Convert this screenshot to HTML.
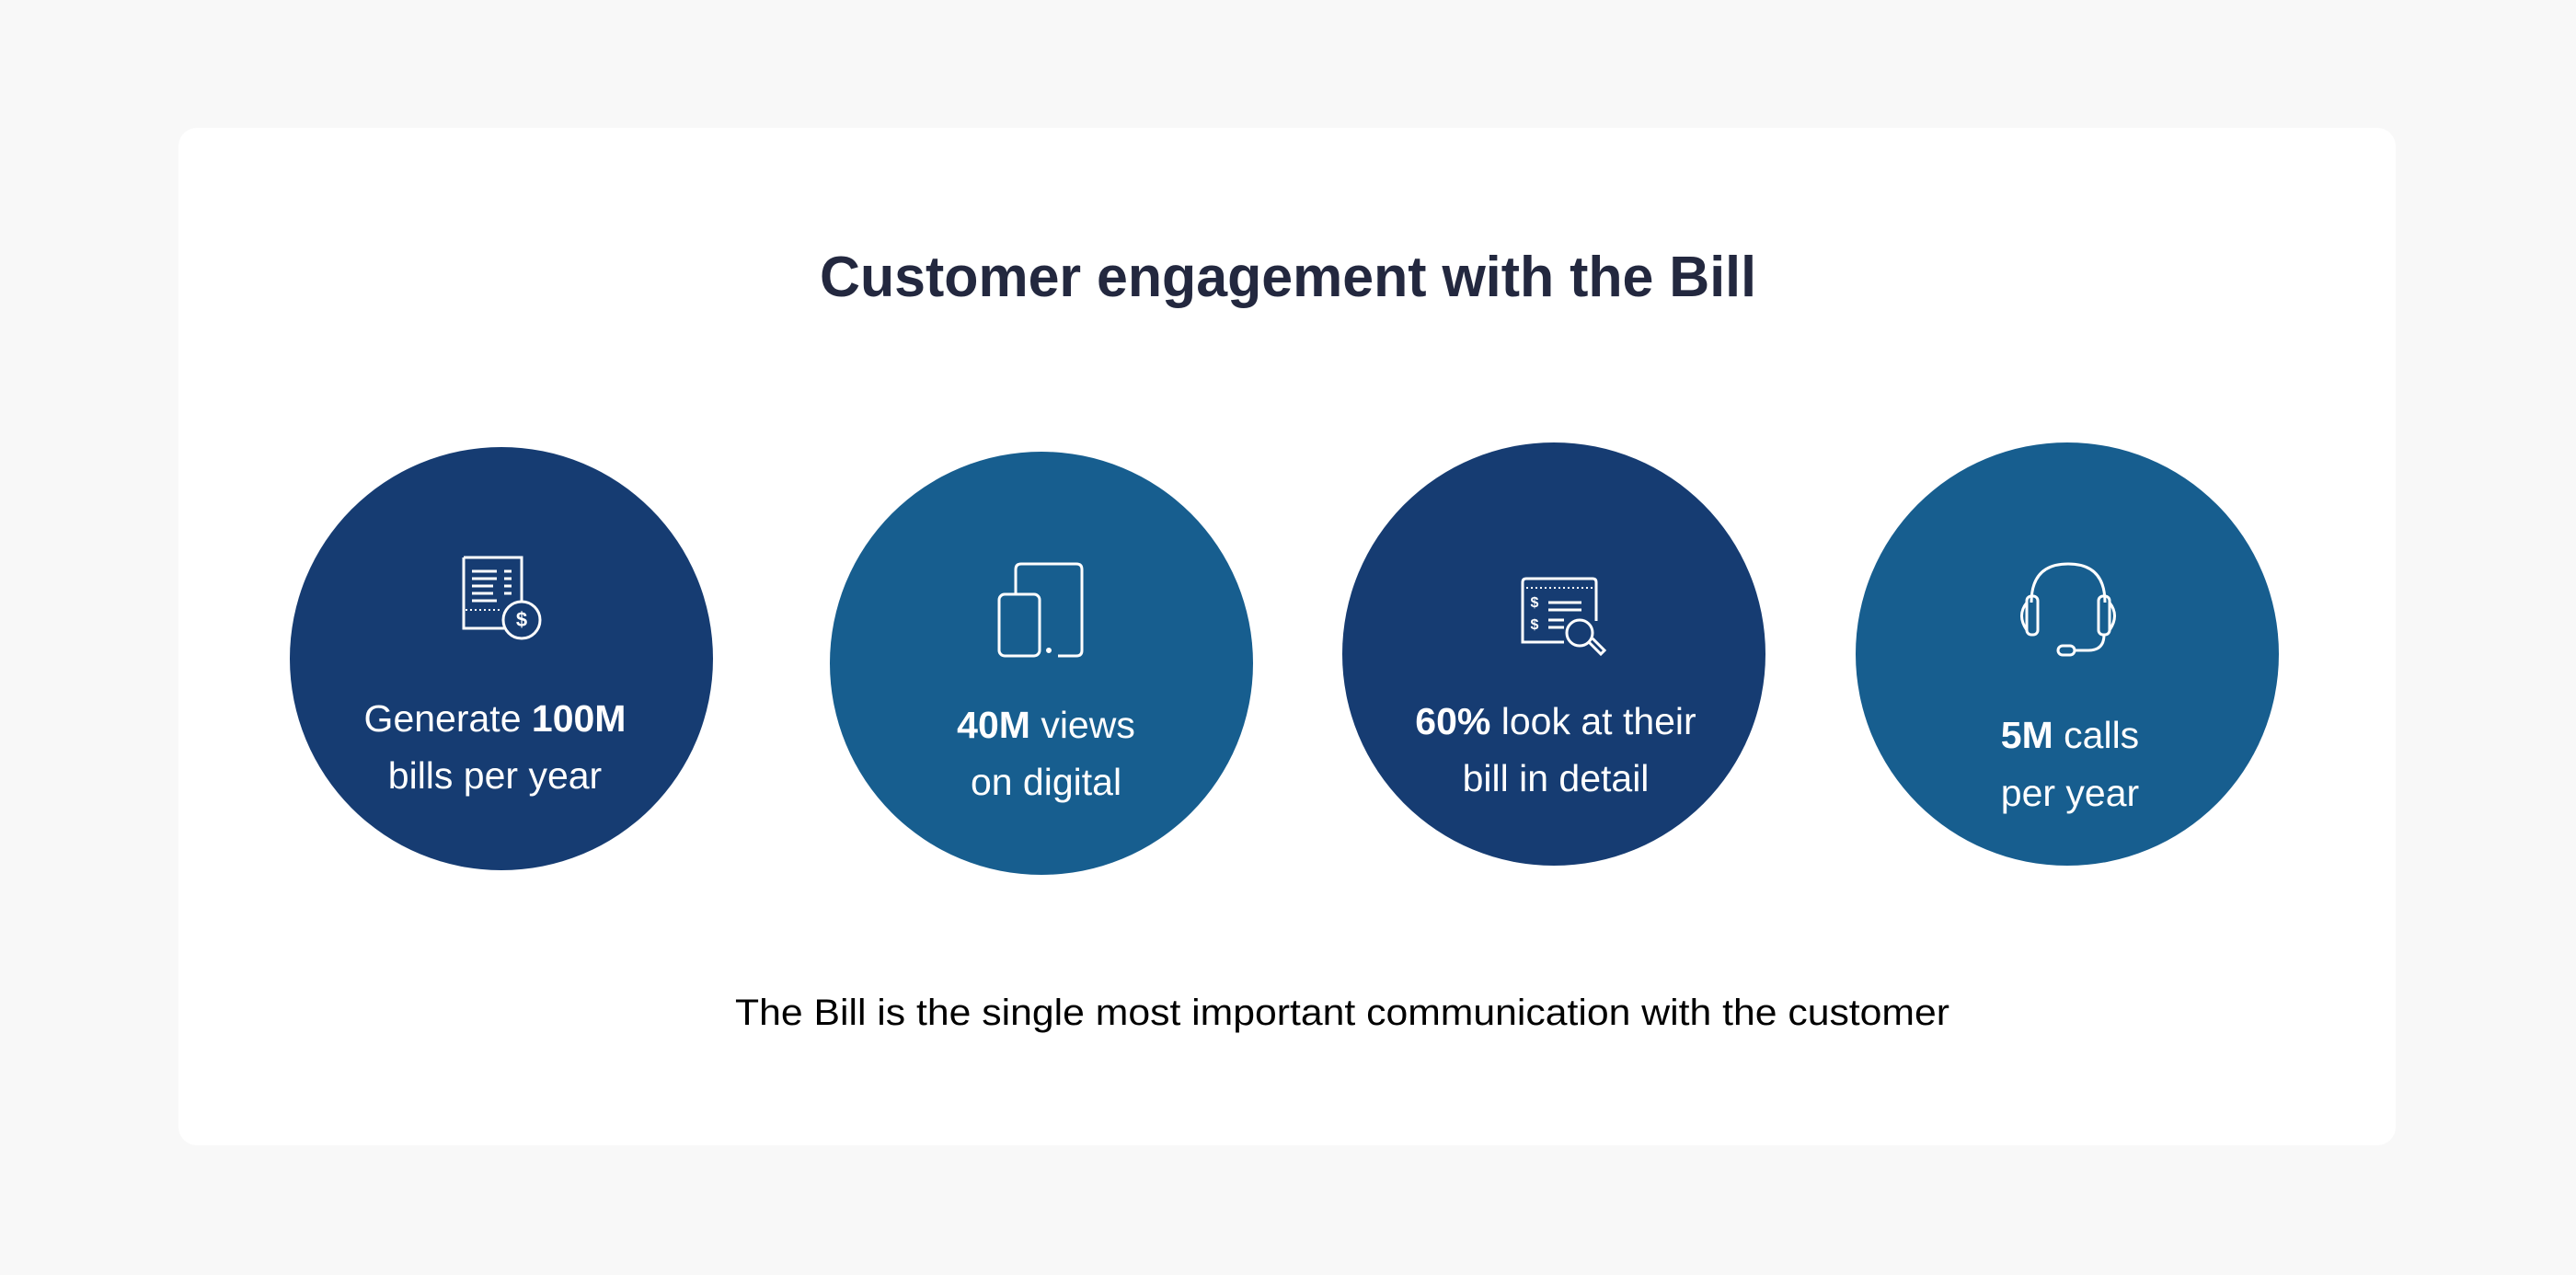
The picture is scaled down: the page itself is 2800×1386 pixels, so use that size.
<!DOCTYPE html>
<html><head><meta charset="utf-8"><style>
html,body{margin:0;padding:0;background:#f8f8f8;}
svg{display:block}
text{font-family:"Liberation Sans",sans-serif;}
</style></head><body>
<svg width="2800" height="1386" viewBox="0 0 2800 1386" xmlns="http://www.w3.org/2000/svg">
<rect x="0" y="0" width="2800" height="1386" fill="#f8f8f8"/>
<rect x="194" y="139" width="2410" height="1106" rx="20" fill="#ffffff"/>
<text x="1400" y="322" text-anchor="middle" font-size="62" font-weight="bold" fill="#23283f" textLength="1018" lengthAdjust="spacingAndGlyphs">Customer engagement with the Bill</text>

<circle cx="545" cy="716" r="230" fill="#163c72"/>
<circle cx="1132" cy="721" r="230" fill="#175e8f"/>
<circle cx="1689" cy="711" r="230" fill="#163c72"/>
<circle cx="2247" cy="711" r="230" fill="#175e8f"/>

<g fill="#fff" font-size="41">
<text x="538" y="795" text-anchor="middle">Generate <tspan font-weight="bold">100M</tspan></text>
<text x="538" y="857" text-anchor="middle">bills per year</text>
<text x="1137" y="802" text-anchor="middle"><tspan font-weight="bold">40M</tspan> views</text>
<text x="1137" y="864" text-anchor="middle">on digital</text>
<text x="1691" y="798" text-anchor="middle"><tspan font-weight="bold">60%</tspan> look at their</text>
<text x="1691" y="860" text-anchor="middle">bill in detail</text>
<text x="2250" y="813" text-anchor="middle"><tspan font-weight="bold">5M</tspan> calls</text>
<text x="2250" y="876" text-anchor="middle">per year</text>
</g>

<g transform="translate(0,-5)">
<g fill="none" stroke="#fff" stroke-width="3">
<path d="M504 611 L504 688 L548 688"/>
<path d="M504 611 L567 611 L567 660"/>
<line x1="513" y1="626" x2="540" y2="626"/><line x1="513" y1="634" x2="540" y2="634"/>
<line x1="513" y1="642" x2="536" y2="642"/><line x1="513" y1="650" x2="536" y2="650"/>
<line x1="513" y1="658" x2="540" y2="658"/>
<line x1="548" y1="626" x2="556" y2="626"/><line x1="548" y1="634" x2="556" y2="634"/><line x1="548" y1="642" x2="556" y2="642"/><line x1="548" y1="650" x2="556" y2="650"/>
<line x1="506" y1="668" x2="546" y2="668" stroke-dasharray="2 3" stroke-width="2"/>
<circle cx="567" cy="679" r="20"/>
<path d="M1104 650 L1104 624 Q1104 618 1110 618 L1170 618 Q1176 618 1176 624 L1176 712 Q1176 718 1170 718 L1150 718"/>
<rect x="1086" y="651" width="44" height="67" rx="6"/>
<circle cx="1140" cy="712" r="1.5" fill="#fff"/>
<path d="M1700 703 L1655 703 L1655 638 Q1655 634 1659 634 L1731 634 Q1735 634 1735 638 L1735 680"/>
<line x1="1659" y1="644" x2="1731" y2="644" stroke-dasharray="2 3" stroke-width="2"/>
<line x1="1683" y1="660" x2="1719" y2="660"/><line x1="1683" y1="668" x2="1719" y2="668"/>
<line x1="1683" y1="679" x2="1700" y2="679"/><line x1="1683" y1="687" x2="1700" y2="687"/>
<circle cx="1717" cy="693" r="14"/>
<path d="M1727 703 L1740 716 L1744 712 L1731 699"/>
<path d="M2208 660 Q2208 618 2248 618 Q2288 618 2288 660"/>
<rect x="2203" y="653" width="12" height="42" rx="5"/>
<rect x="2281" y="653" width="12" height="42" rx="5"/>
<path d="M2203 660 Q2192 674 2203 690"/>
<path d="M2293 660 Q2304 674 2293 690"/>
<path d="M2287 695 Q2287 712 2270 712 L2255 712"/>
<rect x="2237" y="707" width="18" height="10" rx="5"/>
</g>
<g fill="#fff" font-size="16" font-weight="bold">
<text x="567" y="686" text-anchor="middle" font-size="22">$</text>
<text x="1668" y="665" text-anchor="middle">$</text>
<text x="1668" y="689" text-anchor="middle">$</text>
</g>
</g>

<text x="1459" y="1114" text-anchor="middle" font-size="40" fill="#000" textLength="1320" lengthAdjust="spacingAndGlyphs">The Bill is the single most important communication with the customer</text>
</svg>
</body></html>
